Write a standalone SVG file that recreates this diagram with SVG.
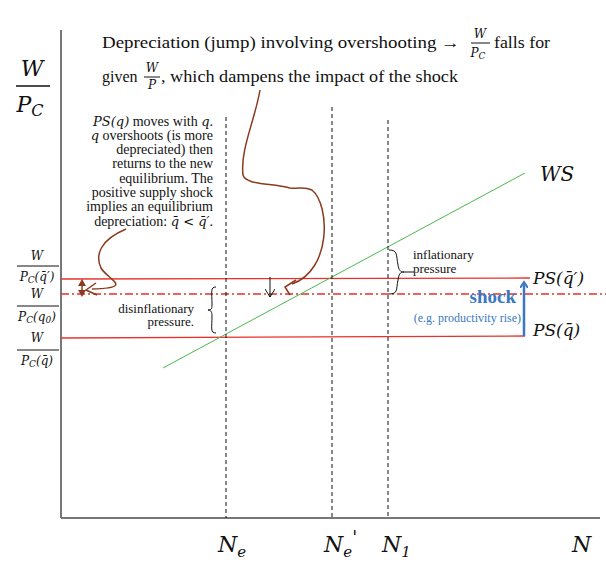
<svg xmlns="http://www.w3.org/2000/svg" width="606" height="564" viewBox="0 0 606 564">
<defs>
<style>
text{font-family:"Liberation Serif",serif;fill:#111}
.m{font-family:"DejaVu Serif","Liberation Serif",serif;font-style:italic}
.red{stroke:#e8312a;stroke-width:1.3;fill:none}
.dash{stroke:#111;stroke-width:1;stroke-dasharray:4,3;fill:none}
.br{stroke:#8b3a1e;stroke-width:1.5;fill:none}
</style>
<marker id="blu" markerWidth="8" markerHeight="8" refX="5" refY="4" orient="auto" markerUnits="userSpaceOnUse"><path d="M0,0 L6,4 L0,8" fill="none" stroke="#3a78c2" stroke-width="2"/></marker>
<marker id="blk" markerWidth="10" markerHeight="10" refX="8" refY="5" orient="auto" markerUnits="userSpaceOnUse"><path d="M0,0 L8,5 L0,10" fill="none" stroke="#111" stroke-width="1"/></marker>
</defs>
<rect width="606" height="564" fill="#fff"/>
<g id="axes" stroke="#777" stroke-width="2"><line x1="61" y1="30" x2="61" y2="518"/><line x1="61" y1="518" x2="600" y2="518"/></g>
<g id="connectors">
<line class="red" x1="61" y1="279" x2="530" y2="278"/>
<line class="red" x1="61" y1="294" x2="606" y2="294" stroke-dasharray="8,3,2,3"/>
<line class="red" x1="61" y1="338" x2="525" y2="336"/>
<line x1="163" y1="368" x2="525" y2="173" stroke="#4cb84c" stroke-width="1"/>
<line class="dash" x1="226" y1="117" x2="226" y2="518"/>
<line class="dash" x1="332" y1="107" x2="332" y2="518"/>
<line class="dash" x1="388" y1="120" x2="388" y2="518" stroke="#555"/>
<line x1="524" y1="336" x2="524" y2="283" stroke="#3a78c2" stroke-width="2.5" marker-end="url(#blu)"/>
<line x1="270" y1="277" x2="270" y2="297" stroke="#111" marker-end="url(#blk)"/>
<line x1="82" y1="284" x2="82" y2="291" class="br"/>
<path d="M78,286 L82,279 L86,286z M78,290 L82,297 L86,290z" fill="#8b3a1e"/>
<path class="br" d="M126,229 C100,240 95,255 101,268 C108,280 135,288 92,289"/>
<path class="br" d="M96,283 L86,290 L97,295"/>
<path class="br" d="M260,90 C255,120 240,150 243,175 C246,185 270,183 290,188 C300,189 303,186 312,190 C330,205 332,270 292,284"/>
<path class="br" d="M296,280 L285,287 L290,295"/>
<path d="M389,250 C398,250 396,255 398,265 C399,270 400,272 404,272 C400,272 399,274 398,280 C396,290 398,294 389,294" fill="none" stroke="#111"/>
<path d="M404,272 L414,272" stroke="#111"/>
<path d="M216,287 C210,287 212,292 212,305 C212,309 211,310 208,310 C211,310 212,312 212,316 C212,328 210,333 216,333" fill="none" stroke="#111"/>
</g>
<g id="title">
<text x="102" y="48" font-size="16" textLength="358" lengthAdjust="spacingAndGlyphs">Depreciation (jump) involving overshooting →</text>
<text x="480" y="38" font-size="12" class="m" text-anchor="middle">W</text>
<line x1="471" y1="43" x2="490" y2="43" stroke="#111"/>
<text x="478" y="57" font-size="12" class="m" text-anchor="middle">P<tspan font-size="9" dy="2">C</tspan></text>
<text x="494" y="48" font-size="16" textLength="56" lengthAdjust="spacingAndGlyphs">falls for</text>
<text x="102" y="82" font-size="16">given</text>
<text x="152" y="72" font-size="12" class="m" text-anchor="middle">W</text>
<line x1="144" y1="77" x2="160" y2="77" stroke="#111"/>
<text x="152" y="89" font-size="12" class="m" text-anchor="middle">P</text>
<text x="161" y="82" font-size="16" textLength="297" lengthAdjust="spacingAndGlyphs">,  which dampens the impact of the shock</text>
</g>
<g id="ylabel">
<text x="32" y="76" font-size="22" class="m" text-anchor="middle">W</text>
<line x1="16" y1="86" x2="50" y2="86" stroke="#111" stroke-width="1.3"/>
<text x="30" y="112" font-size="22" class="m" text-anchor="middle">P<tspan font-size="16" dy="4">C</tspan></text>
</g>
<g id="fractions" font-size="12">
<text x="37" y="260" class="m" text-anchor="middle">W</text>
<line x1="17" y1="266" x2="59" y2="266" stroke="#111"/>
<text x="37" y="281" class="m" text-anchor="middle">P<tspan font-size="9" dy="2">C</tspan><tspan dy="-2">(q̄′)</tspan></text>
<text x="37" y="298" class="m" text-anchor="middle">W</text>
<line x1="17" y1="306" x2="59" y2="306" stroke="#111"/>
<text x="37" y="321" class="m" text-anchor="middle">P<tspan font-size="9" dy="2">C</tspan><tspan dy="-2">(q</tspan><tspan font-size="9" dy="2">0</tspan><tspan dy="-2">)</tspan></text>
<text x="37" y="342" class="m" text-anchor="middle">W</text>
<line x1="17" y1="350" x2="59" y2="350" stroke="#111"/>
<text x="37" y="365" class="m" text-anchor="middle">P<tspan font-size="9" dy="2">C</tspan><tspan dy="-2">(q̄)</tspan></text>
</g>
<g id="note" font-size="14" text-anchor="end">
<text x="213" y="126"><tspan class="m" font-size="13">PS(q)</tspan> moves with <tspan class="m" font-size="13">q</tspan>.</text>
<text x="213" y="140"><tspan class="m" font-size="13">q</tspan> overshoots (is more</text>
<text x="213" y="154">depreciated) then</text>
<text x="213" y="168">returns to the new</text>
<text x="213" y="183">equilibrium. The</text>
<text x="213" y="197">positive supply shock</text>
<text x="213" y="211">implies an equilibrium</text>
<text x="213" y="226">depreciation: <tspan class="m" font-size="13">q̄ &lt; q̄′</tspan>.</text>
</g>
<g id="disinfl" font-size="13" text-anchor="end"><text x="194" y="313">disinflationary</text><text x="194" y="326">pressure.</text></g>
<g id="infl" font-size="13"><text x="413" y="259">inflationary</text><text x="413" y="273">pressure</text></g>
<g id="ws"><text x="540" y="181" font-size="20" class="m">WS</text></g>
<g id="ps"><text x="533" y="284" font-size="17" class="m">PS(q̄′)</text><text x="533" y="336" font-size="17" class="m">PS(q̄)</text></g>
<g id="shock"><text x="516" y="303" font-size="19" font-weight="bold" style="fill:#3a78c2" text-anchor="end">shock</text>
<text x="521" y="322" font-size="12" style="fill:#3a78c2" text-anchor="end">(e.g. productivity rise)</text></g>
<g id="xlabels">
<text x="218" y="552" font-size="22" class="m">N<tspan font-size="15" dy="5">e</tspan></text>
<text x="324" y="552" font-size="22" class="m">N<tspan font-size="15" dy="5">e</tspan><tspan font-size="18" dy="-13">'</tspan></text>
<text x="382" y="552" font-size="22" class="m">N<tspan font-size="15" dy="5">1</tspan></text>
<text x="572" y="552" font-size="22" class="m">N</text>
</g>
</svg>
